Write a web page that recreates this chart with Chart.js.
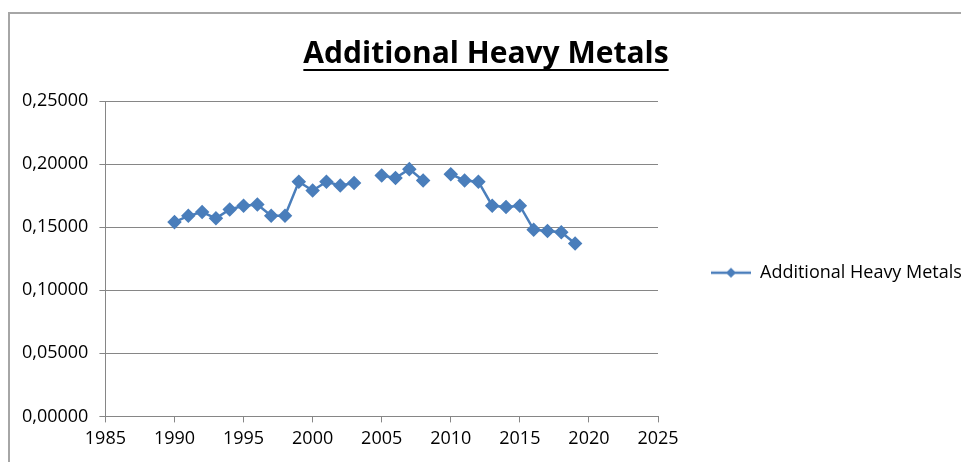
<!DOCTYPE html>
<html>
<head>
<meta charset="utf-8">
<script src="https://cdn.jsdelivr.net/npm/chart.js@4/dist/chart.umd.min.js"></script>
<style>
  html, body { margin: 0; padding: 0; background: #fff; }
  #wrap { position: relative; width: 961px; height: 462px; overflow: hidden; }
  #frame { position: absolute; left: 8px; top: 12px; width: 1000px; height: 500px;
           border-left: 2px solid #a6a6a6; border-top: 2px solid #a6a6a6; }
  canvas { position: absolute; left: 0; top: 0; }
</style>
</head>
<body>
<div id="wrap">
  <div id="frame"></div>
  <canvas id="dataChart" width="961" height="462"></canvas>
</div>
<script>
// values, null = no value that year
const years = [1990, 1991, 1992, 1993, 1994, 1995, 1996, 1997, 1998, 1999,
               2000, 2001, 2002, 2003, 2004, 2005, 2006, 2007, 2008, 2009,
               2010, 2011, 2012, 2013, 2014, 2015, 2016, 2017, 2018, 2019];
const metals = [0.154, 0.159, 0.162, 0.157, 0.164, 0.167, 0.168, 0.159, 0.159, 0.186,
                0.179, 0.186, 0.183, 0.185, null, 0.191, 0.189, 0.196, 0.187, null,
                0.192, 0.187, 0.186, 0.167, 0.166, 0.167, 0.148, 0.147, 0.146, 0.137];
const seriesName = 'Additional Heavy Metals';

const lineBlue = "#4a7ebb";
const fontName = "'Open Sans', sans-serif";

// legend symbol: short line with a diamond in the middle
const legendIcon = document.createElement('canvas');
legendIcon.width = 40;
legendIcon.height = 12;
(function () {
    const c = legendIcon.getContext('2d');
    c.strokeStyle = lineBlue;
    c.lineWidth = 2.5;
    c.beginPath();
    c.moveTo(0, 6);
    c.lineTo(40, 6);
    c.stroke();
    c.fillStyle = lineBlue;
    c.beginPath();
    c.moveTo(20, 1);
    c.lineTo(25, 6);
    c.lineTo(20, 11);
    c.lineTo(15, 6);
    c.closePath();
    c.fill();
})();

// Excel style underlined title
const underlineTitle = {
    id: 'underlineTitle',
    afterDraw(chart) {
        const t = chart.titleBlock;
        if (!t) return;
        const ctx = chart.ctx;
        ctx.save();
        ctx.font = "bold 30px " + fontName;
        const w = ctx.measureText(seriesName).width;
        const cx = (t.left + t.right) / 2;
        const y = t.top + t.options.padding.top + 34;
        ctx.strokeStyle = "#000";
        ctx.lineWidth = 2;
        ctx.beginPath();
        ctx.moveTo(cx - w / 2, y);
        ctx.lineTo(cx + w / 2, y);
        ctx.stroke();
        ctx.restore();
    }
};

new Chart(document.getElementById("dataChart"), {
    type: 'line',
    data: {
        datasets: [{
            label: seriesName,
            data: years.map((y, i) => ({x: y, y: metals[i]})),
            borderColor: lineBlue,
            backgroundColor: lineBlue,
            borderWidth: 2.5,
            pointStyle: 'rectRot',
            pointRadius: 5.5,
            pointHoverRadius: 5.5,
            spanGaps: false,
            tension: 0
        }]
    },
    options: {
        responsive: false,
        animation: false,
        layout: {
            padding: {left: 11, right: 0, top: 0, bottom: 6}
        },
        scales: {
            x: {
                type: 'linear',
                min: 1985,
                max: 2025,
                grid: {
                    drawOnChartArea: false,
                    drawTicks: true,
                    tickLength: 6,
                    color: "#868686"
                },
                border: {color: "#868686", width: 1},
                ticks: {
                    stepSize: 5,
                    padding: 6,
                    color: "#000",
                    font: {family: fontName, size: 18},
                    maxRotation: 0,
                    callback: (v) => String(v)
                }
            },
            y: {
                min: 0,
                max: 0.25,
                grid: {
                    color: "#868686",
                    tickLength: 6
                },
                border: {color: "#868686", width: 1},
                ticks: {
                    stepSize: 0.05,
                    padding: 11,
                    color: "#000",
                    font: {family: fontName, size: 18},
                    callback: (v) => v.toFixed(5).replace('.', ',')
                }
            }
        },
        plugins: {
            title: {
                display: true,
                text: seriesName,
                color: "#000",
                font: {family: fontName, size: 30, weight: 'bold'},
                padding: {top: 36, bottom: 29}
            },
            legend: {
                position: 'right',
                fullSize: false,
                maxWidth: 303,
                // empty legend title only pushes the entry down a bit
                title: {
                    display: true,
                    text: ' ',
                    font: {size: 10},
                    padding: 8
                },
                labels: {
                    usePointStyle: true,
                    pointStyleWidth: 40,
                    padding: 53,
                    color: "#000",
                    font: {family: fontName, size: 18},
                    generateLabels: (chart) => [{
                        text: seriesName,
                        fontColor: "#000",
                        pointStyle: legendIcon,
                        fillStyle: lineBlue,
                        strokeStyle: lineBlue,
                        lineWidth: 0,
                        hidden: false,
                        datasetIndex: 0
                    }]
                }
            },
            tooltip: {enabled: false}
        }
    },
    plugins: [underlineTitle]
});
</script>
</body>
</html>
